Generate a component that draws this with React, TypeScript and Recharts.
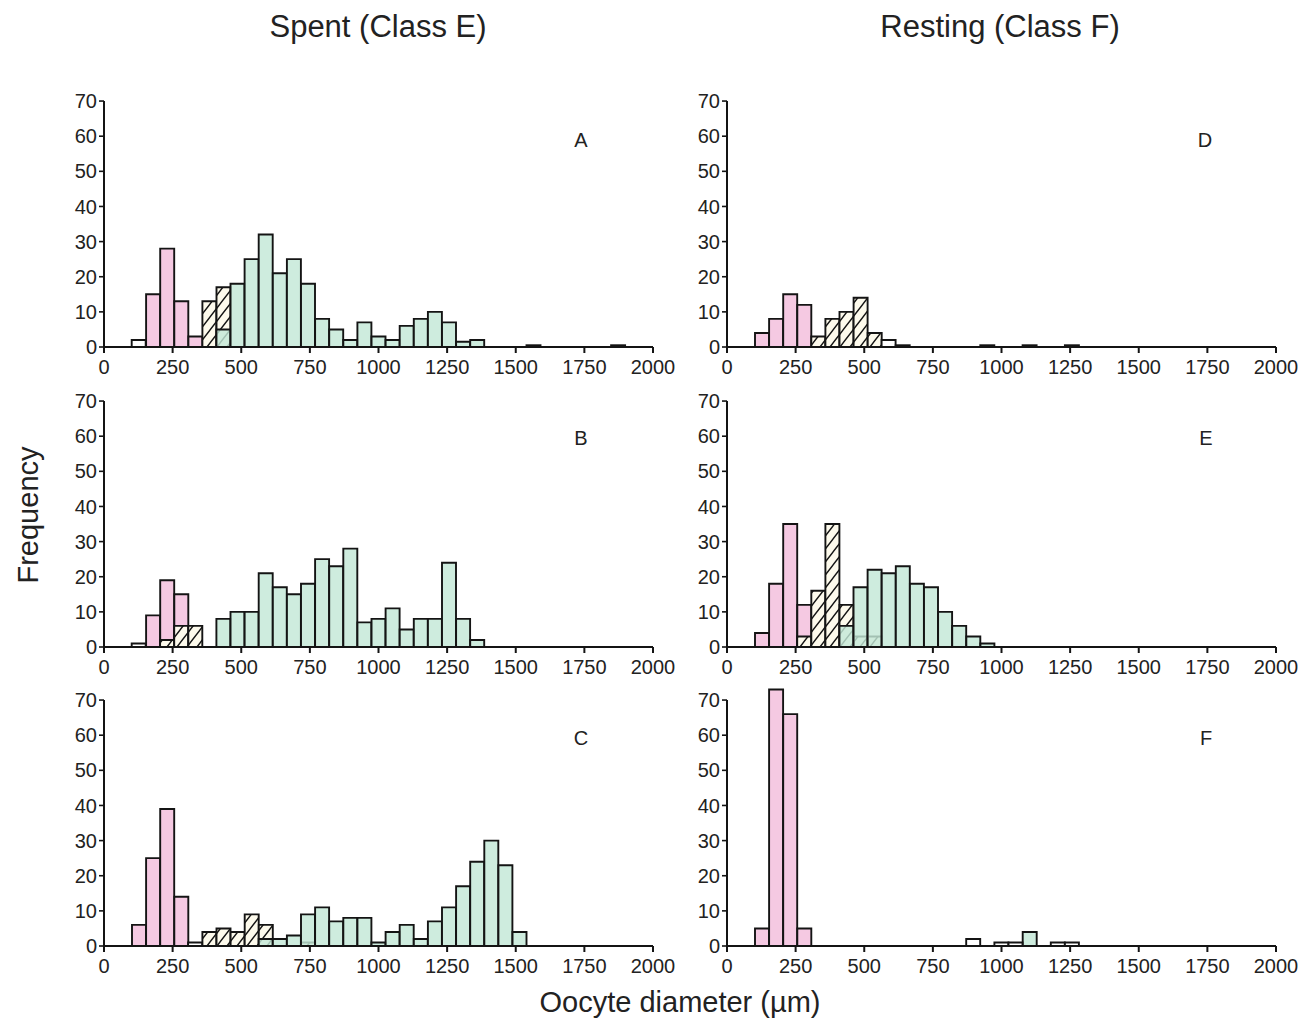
import { Bar, BarChart, ReferenceLine, XAxis, YAxis } from "recharts";

// Histogram bins (lower edge, µm). Each bar covers one 50 µm bin.
const BIN_STARTS = [
  100, 150, 200, 250, 300, 350, 400, 450, 500, 550, 600, 650, 700, 750, 800, 850, 900, 950,
  1000, 1050, 1100, 1150, 1200, 1250, 1300, 1350, 1400, 1450, 1500, 1550, 1600, 1650, 1700,
  1750, 1800, 1850,
];
const X_TICKS = [0, 250, 500, 750, 1000, 1250, 1500, 1750, 2000];
const Y_TICKS = [0, 10, 20, 30, 40, 50, 60, 70];

type Pairs = [number, number][];

// [bin start, frequency] for each oocyte stage, per panel.
const A_PINK: Pairs = [[150, 15], [200, 28], [250, 13], [300, 3]];
const A_HATCH: Pairs = [[350, 13], [400, 17]];
const A_GREEN: Pairs = [
  [400, 5], [450, 18], [500, 25], [550, 32], [600, 21], [650, 25], [700, 18], [750, 8],
  [800, 5], [850, 2], [900, 7], [950, 3], [1000, 2], [1050, 6], [1100, 8], [1150, 10],
  [1200, 7], [1250, 1.5], [1300, 2],
];
const A_OTHER: Pairs = [[100, 2], [1500, 0.5], [1800, 0.5]];

const B_PINK: Pairs = [[150, 9], [200, 19], [250, 15]];
const B_HATCH: Pairs = [[200, 2], [250, 6], [300, 6]];
const B_GREEN: Pairs = [
  [400, 8], [450, 10], [500, 10], [550, 21], [600, 17], [650, 15], [700, 18], [750, 25],
  [800, 23], [850, 28], [900, 7], [950, 8], [1000, 11], [1050, 5], [1100, 8], [1150, 8],
  [1200, 24], [1250, 8], [1300, 2],
];
const B_OTHER: Pairs = [[100, 1]];

const C_PINK: Pairs = [[100, 6], [150, 25], [200, 39], [250, 14]];
const C_HATCH: Pairs = [[350, 4], [400, 5], [450, 4], [500, 9], [550, 6], [700, 1]];
const C_GREEN: Pairs = [
  [550, 2], [600, 2], [650, 3], [700, 9], [750, 11], [800, 7], [850, 8], [900, 8], [950, 1],
  [1000, 4], [1050, 6], [1100, 2], [1150, 7], [1200, 11], [1250, 17], [1300, 24], [1350, 30],
  [1400, 23], [1450, 4],
];
const C_OTHER: Pairs = [[300, 1]];

const D_PINK: Pairs = [[100, 4], [150, 8], [200, 15], [250, 12]];
const D_HATCH: Pairs = [[300, 3], [350, 8], [400, 10], [450, 14], [500, 4]];
const D_GREEN: Pairs = [];
const D_OTHER: Pairs = [[550, 2], [600, 0.5], [900, 0.5], [1050, 0.5], [1200, 0.5]];

const E_PINK: Pairs = [[100, 4], [150, 18], [200, 35], [250, 12]];
const E_HATCH: Pairs = [[250, 3], [300, 16], [350, 35], [400, 12], [450, 3], [500, 3]];
const E_GREEN: Pairs = [
  [400, 6], [450, 17], [500, 22], [550, 21], [600, 23], [650, 18], [700, 17], [750, 10],
  [800, 6], [850, 3], [900, 1],
];
const E_OTHER: Pairs = [];

const F_PINK: Pairs = [[100, 5], [150, 73], [200, 66], [250, 5]];
const F_HATCH: Pairs = [];
const F_GREEN: Pairs = [[1050, 4]];
const F_OTHER: Pairs = [[850, 2], [950, 1], [1000, 1], [1150, 1], [1200, 1]];

const INK = "#141414";
const TEXT = "#222";
const PINK = "#F5C9E2";
const GREEN = "#C3E8D7";
const CREAM = "#FDFAEC";
const FONT = "'Liberation Sans', Arial, Helvetica, sans-serif";

// Layout (px): y axis band, plot size and the offset of the first bin.
const Y_AXIS_W = 64;
const PLOT_W = 549;
const PLOT_H = 260;
const MARGIN = { top: 4, right: 26, bottom: 0, left: 0 };
const X_AXIS_H = 42;
const CHART_W = Y_AXIS_W + PLOT_W + MARGIN.right;
const CHART_H = MARGIN.top + PLOT_H + X_AXIS_H;
const BIN_PAD_LEFT = 28;
const BIN_PAD_RIGHT = 13.4;
const BAR_STROKE = 1.9;

type Panel = {
  id: string;
  left: number;
  top: number;
  pink: Pairs;
  hatch: Pairs;
  green: Pairs;
  other: Pairs;
};

const PANELS: Panel[] = [
  { id: "A", left: 40, top: 83, pink: A_PINK, hatch: A_HATCH, green: A_GREEN, other: A_OTHER },
  { id: "B", left: 40, top: 383, pink: B_PINK, hatch: B_HATCH, green: B_GREEN, other: B_OTHER },
  { id: "C", left: 40, top: 682, pink: C_PINK, hatch: C_HATCH, green: C_GREEN, other: C_OTHER },
  { id: "D", left: 663, top: 83, pink: D_PINK, hatch: D_HATCH, green: D_GREEN, other: D_OTHER },
  { id: "E", left: 663, top: 383, pink: E_PINK, hatch: E_HATCH, green: E_GREEN, other: E_OTHER },
  { id: "F", left: 663, top: 682, pink: F_PINK, hatch: F_HATCH, green: F_GREEN, other: F_OTHER },
];

function valueAt(pairs: Pairs, start: number): number | null {
  const hit = pairs.find(([bin]) => bin === start);
  return hit ? hit[1] : null;
}

const tickStyle = { fill: TEXT, fontSize: 20, fontFamily: FONT };

function Histogram({ panel }: { panel: Panel }) {
  const rows = BIN_STARTS.map((start) => ({
    start,
    pink: valueAt(panel.pink, start),
    hatch: valueAt(panel.hatch, start),
    green: valueAt(panel.green, start),
    other: valueAt(panel.other, start),
  }));
  const hatchId = `hatch-${panel.id}`;

  return (
    <BarChart
      width={CHART_W}
      height={CHART_H}
      data={rows}
      margin={MARGIN}
      barCategoryGap={0}
      barGap="-100%"
    >
      <defs>
        <pattern id={hatchId} patternUnits="userSpaceOnUse" width={10} height={13}>
          <rect width={10} height={13} fill={CREAM} />
          <path d="M0,13 L10,0 M-3,4 L3,-4 M7,17 L13,9" stroke={INK} strokeWidth={1.4} />
        </pattern>
      </defs>
      <XAxis
        xAxisId="bins"
        dataKey="start"
        type="category"
        hide
        height={0}
        padding={{ left: BIN_PAD_LEFT, right: BIN_PAD_RIGHT }}
      />
      <XAxis
        xAxisId="um"
        dataKey="start"
        type="number"
        domain={[0, 2000]}
        ticks={X_TICKS}
        interval={0}
        height={X_AXIS_H}
        tickSize={6}
        tickMargin={7}
        axisLine={{ stroke: INK, strokeWidth: 2 }}
        tickLine={{ stroke: INK, strokeWidth: 2 }}
        tick={tickStyle}
      />
      <YAxis
        domain={[0, 74]}
        ticks={Y_TICKS}
        interval={0}
        width={Y_AXIS_W}
        tickSize={5}
        tickMargin={2}
        axisLine={false}
        tickLine={{ stroke: INK, strokeWidth: 1.6 }}
        tick={tickStyle}
      />
      <ReferenceLine
        xAxisId="um"
        segment={[
          { x: 0, y: 0 },
          { x: 0, y: 70 },
        ]}
        stroke={INK}
        strokeWidth={2}
      />
      <Bar xAxisId="bins" dataKey="pink" fill={PINK} stroke={INK} strokeWidth={BAR_STROKE} isAnimationActive={false} />
      <Bar
        xAxisId="bins"
        dataKey="hatch"
        fill={`url(#${hatchId})`}
        stroke={INK}
        strokeWidth={BAR_STROKE}
        isAnimationActive={false}
      />
      <Bar
        xAxisId="bins"
        dataKey="green"
        fill={GREEN}
        fillOpacity={0.82}
        stroke={INK}
        strokeWidth={BAR_STROKE}
        isAnimationActive={false}
      />
      <Bar xAxisId="bins" dataKey="other" fill="#fff" stroke={INK} strokeWidth={BAR_STROKE} isAnimationActive={false} />
    </BarChart>
  );
}

const LETTER_POS: Record<string, [number, number]> = {
  A: [581, 140],
  B: [581, 438],
  C: [581, 738],
  D: [1205, 140],
  E: [1206, 438],
  F: [1206, 738],
};

function Text({
  x,
  y,
  size,
  children,
  rotate = 0,
}: {
  x: number;
  y: number;
  size: number;
  children: string;
  rotate?: number;
}) {
  return (
    <div
      style={{
        position: "absolute",
        left: x,
        top: y,
        transform: `translate(-50%, -50%) rotate(${rotate}deg)`,
        fontSize: size,
        color: TEXT,
        whiteSpace: "nowrap",
        lineHeight: 1,
      }}
    >
      {children}
    </div>
  );
}

export default function App() {
  return (
    <div
      style={{
        position: "absolute",
        left: 0,
        top: 0,
        width: 1314,
        height: 1021,
        background: "#fff",
        fontFamily: FONT,
        overflow: "hidden",
      }}
    >
      <Text x={378} y={26} size={31}>Spent (Class E)</Text>
      <Text x={1000} y={26} size={31}>Resting (Class F)</Text>
      <Text x={28} y={515} size={29} rotate={-90}>Frequency</Text>
      <Text x={680} y={1002} size={29}>Oocyte diameter (µm)</Text>
      {PANELS.map((panel) => (
        <div key={panel.id} style={{ position: "absolute", left: panel.left, top: panel.top }}>
          <Histogram panel={panel} />
        </div>
      ))}
      {PANELS.map((panel) => (
        <Text key={`label-${panel.id}`} x={LETTER_POS[panel.id][0]} y={LETTER_POS[panel.id][1]} size={20}>
          {panel.id}
        </Text>
      ))}
    </div>
  );
}
